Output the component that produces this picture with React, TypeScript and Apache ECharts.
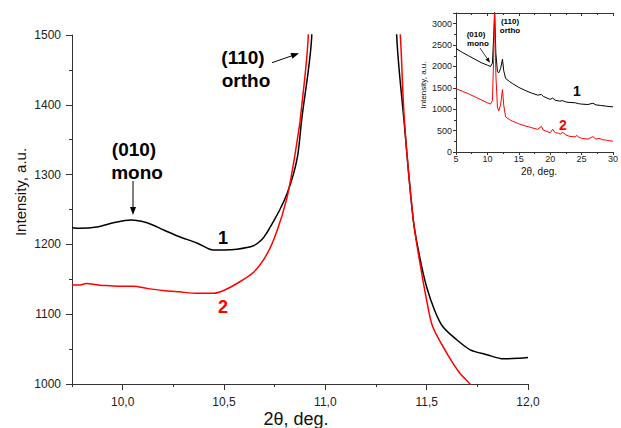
import React, { useEffect, useRef } from "react";
import * as echarts from "echarts";

// ---- Main plot data (2θ, intensity) ----
const mainBlackX = [9.75, 9.79, 9.873, 9.954, 10.04, 10.12, 10.2, 10.28, 10.366, 10.43, 10.449, 10.5, 10.564, 10.645, 10.687, 10.71, 10.74, 10.776, 10.81, 10.842, 10.865, 10.883, 10.933, 11.0, 11.13, 11.25, 11.352, 11.388, 11.434, 11.467, 11.5, 11.54, 11.58, 11.65, 11.715, 11.797, 11.88, 11.96, 12.0];
const mainBlackY = [1224, 1223, 1225, 1231, 1235, 1231, 1221, 1211, 1202, 1193, 1192, 1192, 1193, 1198, 1207, 1216, 1231, 1250, 1272, 1300, 1330, 1378, 1500, 2300, 3300, 2400, 1500, 1378, 1235, 1180, 1139, 1105, 1082, 1063, 1049, 1042, 1036, 1037, 1038];

const mainRedX = [9.75, 9.79, 9.82, 9.857, 9.9, 9.92, 9.988, 10.054, 10.12, 10.2, 10.28, 10.366, 10.45, 10.498, 10.564, 10.646, 10.712, 10.76, 10.81, 10.843, 10.868, 10.876, 10.916, 10.97, 11.1, 11.2, 11.3, 11.37, 11.39, 11.434, 11.47, 11.5, 11.53, 11.6, 11.665, 11.72, 11.8];
const mainRedY = [1142, 1142, 1144, 1143, 1141, 1141, 1140, 1140, 1137, 1134, 1132, 1130, 1130, 1134, 1144, 1160, 1186, 1218, 1266, 1316, 1362, 1378, 1500, 2100, 3200, 2500, 1800, 1500, 1378, 1235, 1168, 1120, 1082, 1044, 1015, 998, 960];

// ---- Inset data (full pattern) ----
const insetBlackX = [5, 6, 7, 8, 9, 10, 10.5, 10.8, 11.0, 11.15, 11.35, 11.6, 11.8, 12.1, 12.4, 12.6, 12.9, 13.5, 14, 15, 16, 17, 18, 18.6, 18.9, 19.5, 20, 20.4, 20.8, 21.5, 22, 22.5, 23, 24, 24.5, 25, 26, 26.8, 27.3, 28, 29, 30];
const insetBlackY = [2420, 2330, 2250, 2170, 2090, 2030, 2000, 2080, 2700, 3300, 2300, 1880, 1850, 1950, 2170, 1900, 1720, 1650, 1600, 1510, 1440, 1380, 1330, 1345, 1300, 1260, 1230, 1260, 1210, 1190, 1200, 1170, 1160, 1150, 1130, 1120, 1110, 1140, 1100, 1090, 1070, 1055];

const insetRedX = [5, 6, 7, 8, 9, 10, 10.5, 10.8, 11.0, 11.15, 11.35, 11.6, 11.8, 12.1, 12.4, 12.6, 12.9, 13.5, 14, 15, 16, 17, 18, 18.6, 18.9, 19.5, 20, 20.4, 20.8, 21.3, 21.6, 22, 22.5, 23, 24, 24.2, 24.6, 25, 26, 26.8, 27.3, 27.8, 28.3, 29, 30];
const insetRedY = [1480, 1420, 1360, 1290, 1220, 1150, 1120, 1200, 2200, 3250, 1800, 1050, 960, 1100, 1460, 1100, 820, 760, 720, 660, 610, 570, 530, 600, 510, 480, 450, 530, 450, 440, 420, 460, 400, 370, 350, 390, 340, 320, 300, 360, 300, 320, 290, 275, 250];

const mainXMajorTicks = [10.0, 10.5, 11.0, 11.5, 12.0];

const pairs = (xs: number[], ys: number[]) => xs.map((x, i) => [x, ys[i]]);

const FONT = "'Liberation Sans', Arial, sans-serif";
const AXIS = "#333";
const LABEL = "#222";

export default function App() {
  const ref = useRef<HTMLDivElement>(null);
  useEffect(() => {
    if (!ref.current) return;
    const chart = echarts.init(ref.current, null, { renderer: "svg" });
    const arrowHead = (tx: number, ty: number, dx: number, dy: number, len: number, hw: number) => {
      const n = Math.hypot(dx, dy);
      const ux = dx / n, uy = dy / n;
      const bx = tx - ux * len, by = ty - uy * len;
      return [[tx, ty], [bx - uy * hw, by + ux * hw], [bx + uy * hw, by - ux * hw]];
    };
    const option: any = {
      animation: false,
      backgroundColor: "#fff",
      grid: [
        { left: 72, width: 456, top: 35, height: 349 },
        { left: 122.67, width: 405.33, top: 35, height: 349 },
        { left: 456, width: 168.5, top: 13, height: 139 },
      ],
      xAxis: [
        {
          type: "value", gridIndex: 0, min: 9.75, max: 12, interval: 0.25,
          axisLine: { show: true, lineStyle: { color: AXIS, width: 1 } },
          axisTick: { show: true, length: 3, lineStyle: { color: AXIS } },
          axisLabel: { show: false }, splitLine: { show: false },
        },
        {
          type: "value", gridIndex: 1, min: mainXMajorTicks[0], max: mainXMajorTicks[mainXMajorTicks.length - 1], interval: 0.5,
          axisLine: { show: false },
          axisTick: { show: true, length: 6, lineStyle: { color: AXIS } },
          axisLabel: {
            show: true, margin: 12, fontSize: 12, color: LABEL, fontFamily: FONT,
            formatter: (v: number) => v.toFixed(1).replace(".", ","),
          },
          splitLine: { show: false },
        },
        {
          type: "value", gridIndex: 2, min: 5, max: 30, interval: 5, position: "bottom",
          axisLine: { show: true, lineStyle: { color: AXIS, width: 1 } },
          axisTick: { show: true, length: 3, lineStyle: { color: AXIS } },
          minorTick: { show: true, splitNumber: 2, length: 2, lineStyle: { color: AXIS } },
          axisLabel: { show: true, margin: 2, fontSize: 9, color: LABEL, fontFamily: FONT },
          splitLine: { show: false },
        },
        {
          type: "value", gridIndex: 2, min: 5, max: 30, interval: 5, position: "top",
          axisLine: { show: true, onZero: false, lineStyle: { color: AXIS, width: 1 } },
          axisTick: { show: true, inside: true, length: 3, lineStyle: { color: AXIS } },
          minorTick: { show: true, splitNumber: 2, length: 2, lineStyle: { color: AXIS } },
          axisLabel: { show: false }, splitLine: { show: false },
        },
      ],
      yAxis: [
        {
          type: "value", gridIndex: 0, min: 1000, max: 1500, interval: 100,
          axisLine: { show: true, lineStyle: { color: AXIS, width: 1 } },
          axisTick: { show: true, length: 6, lineStyle: { color: AXIS } },
          minorTick: { show: true, splitNumber: 2, length: 3, lineStyle: { color: AXIS } },
          axisLabel: { show: true, margin: 11, fontSize: 12, color: LABEL, fontFamily: FONT, formatter: (v: number) => String(v) },
          splitLine: { show: false },
        },
        { type: "value", gridIndex: 1, min: 0, max: 1, show: false },
        {
          type: "value", gridIndex: 2, min: 0, max: 3250, interval: 500,
          axisLine: { show: true, lineStyle: { color: AXIS, width: 1 } },
          axisTick: { show: true, length: 3, lineStyle: { color: AXIS } },
          minorTick: { show: true, splitNumber: 2, length: 2, lineStyle: { color: AXIS } },
          axisLabel: {
            show: true, margin: 4, fontSize: 9, color: LABEL, fontFamily: FONT,
            formatter: (v: number) => (v > 3000 ? "" : String(v)),
          },
          splitLine: { show: false },
        },
      ],
      series: [
        {
          type: "line", xAxisIndex: 0, yAxisIndex: 0, data: pairs(mainBlackX, mainBlackY),
          showSymbol: false, smooth: 0.3, lineStyle: { color: "#000", width: 1.5 }, clip: true,
        },
        {
          type: "line", xAxisIndex: 0, yAxisIndex: 0, data: pairs(mainRedX, mainRedY),
          showSymbol: false, smooth: 0.3, lineStyle: { color: "#ff0000", width: 1.5 }, clip: true,
        },
        {
          type: "line", xAxisIndex: 2, yAxisIndex: 2, data: pairs(insetBlackX, insetBlackY),
          showSymbol: false, lineStyle: { color: "#000", width: 1 }, clip: true,
        },
        {
          type: "line", xAxisIndex: 2, yAxisIndex: 2, data: pairs(insetRedX, insetRedY),
          showSymbol: false, lineStyle: { color: "#ff0000", width: 1 }, clip: true,
        },
      ],
      graphic: [
        // axis names
        { type: "text", x: 20, y: 192, rotation: Math.PI / 2, style: { text: "Intensity, a.u.", fontSize: 15, fontFamily: FONT, fill: "#111", textAlign: "center", textVerticalAlign: "middle" } },
        { type: "text", x: 296, y: 419, style: { text: "2θ, deg.", fontSize: 18, fontFamily: FONT, fill: "#111", textAlign: "center", textVerticalAlign: "middle" } },
        { type: "text", x: 423, y: 85, rotation: Math.PI / 2, style: { text: "Intensity, a.u.", fontSize: 8, fontFamily: FONT, fill: "#111", textAlign: "center", textVerticalAlign: "middle" } },
        { type: "text", x: 539, y: 171, style: { text: "2θ, deg.", fontSize: 10, fontFamily: FONT, fill: "#111", textAlign: "center", textVerticalAlign: "middle" } },
        // main annotations
        { type: "text", x: 134, y: 149, style: { text: "(010)", fontSize: 19, fontWeight: "bold", fontFamily: FONT, fill: "#000", textAlign: "center", textVerticalAlign: "middle" } },
        { type: "text", x: 137, y: 172, style: { text: "mono", fontSize: 19, fontWeight: "bold", fontFamily: FONT, fill: "#000", textAlign: "center", textVerticalAlign: "middle" } },
        { type: "line", shape: { x1: 133, y1: 181, x2: 133, y2: 208 }, style: { stroke: "#000", lineWidth: 1 } },
        { type: "polygon", shape: { points: arrowHead(133, 215, 0, 1, 8, 3) }, style: { fill: "#000" } },
        { type: "text", x: 243, y: 57, style: { text: "(110)", fontSize: 19, fontWeight: "bold", fontFamily: FONT, fill: "#000", textAlign: "center", textVerticalAlign: "middle" } },
        { type: "text", x: 246, y: 80, style: { text: "ortho", fontSize: 19, fontWeight: "bold", fontFamily: FONT, fill: "#000", textAlign: "center", textVerticalAlign: "middle" } },
        { type: "line", shape: { x1: 272, y1: 62.7, x2: 293, y2: 55.4 }, style: { stroke: "#000", lineWidth: 1 } },
        { type: "polygon", shape: { points: arrowHead(299, 53.3, 27, -9.4, 8, 3) }, style: { fill: "#000" } },
        { type: "text", x: 223, y: 238, style: { text: "1", fontSize: 18, fontWeight: "bold", fontFamily: FONT, fill: "#000", textAlign: "center", textVerticalAlign: "middle" } },
        { type: "text", x: 223, y: 307, style: { text: "2", fontSize: 18, fontWeight: "bold", fontFamily: FONT, fill: "#ff0000", textAlign: "center", textVerticalAlign: "middle" } },
        // inset annotations
        { type: "text", x: 476, y: 34, style: { text: "(010)", fontSize: 8, fontWeight: "bold", fontFamily: FONT, fill: "#000", textAlign: "center", textVerticalAlign: "middle" } },
        { type: "text", x: 478, y: 43.5, style: { text: "mono", fontSize: 8, fontWeight: "bold", fontFamily: FONT, fill: "#000", textAlign: "center", textVerticalAlign: "middle" } },
        { type: "line", shape: { x1: 480, y1: 48, x2: 487.5, y2: 59 }, style: { stroke: "#000", lineWidth: 0.8 } },
        { type: "polygon", shape: { points: arrowHead(490, 62.7, 10, 14.7, 5, 2) }, style: { fill: "#000" } },
        { type: "text", x: 510, y: 21.7, style: { text: "(110)", fontSize: 8, fontWeight: "bold", fontFamily: FONT, fill: "#000", textAlign: "center", textVerticalAlign: "middle" } },
        { type: "text", x: 510, y: 30.5, style: { text: "ortho", fontSize: 8, fontWeight: "bold", fontFamily: FONT, fill: "#000", textAlign: "center", textVerticalAlign: "middle" } },
        { type: "text", x: 577, y: 91, style: { text: "1", fontSize: 14, fontWeight: "bold", fontFamily: FONT, fill: "#000", textAlign: "center", textVerticalAlign: "middle" } },
        { type: "text", x: 563, y: 125, style: { text: "2", fontSize: 14, fontWeight: "bold", fontFamily: FONT, fill: "#ff0000", textAlign: "center", textVerticalAlign: "middle" } },
      ],
    };
    chart.setOption(option);
    return () => chart.dispose();
  }, []);
  return (
    <div
      ref={ref}
      style={{ position: "fixed", left: 0, top: 0, width: 621, height: 428, background: "#fff" }}
    />
  );
}
